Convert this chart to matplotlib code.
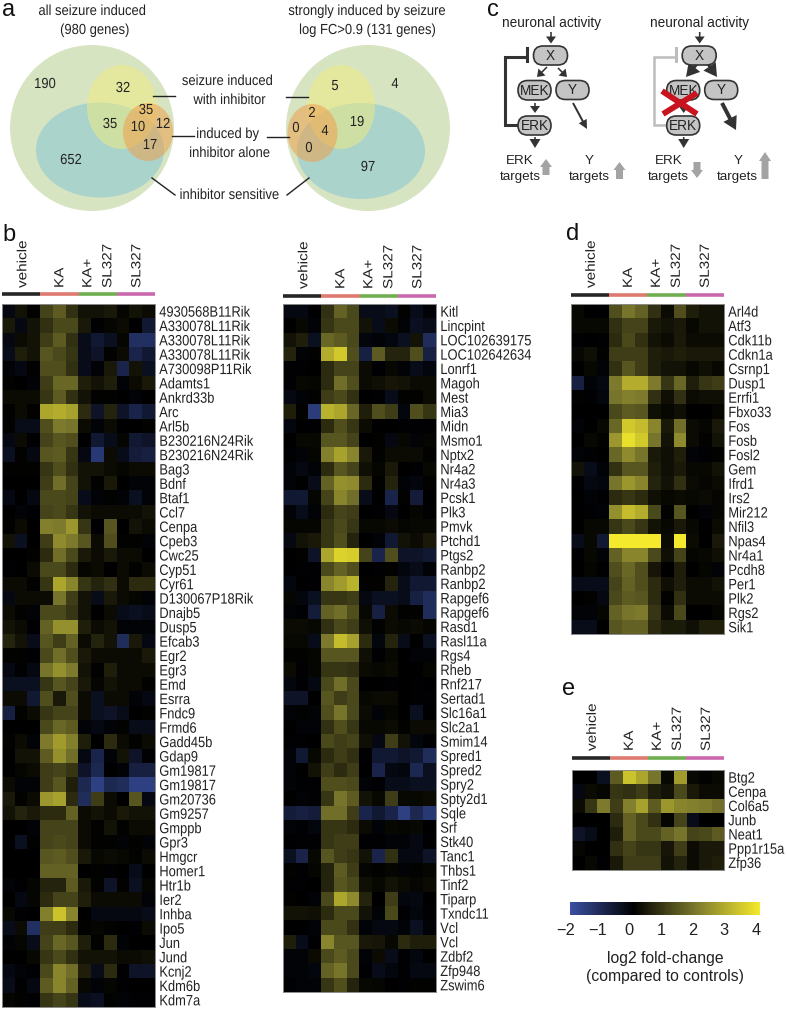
import matplotlib
matplotlib.use("Agg")
import matplotlib.pyplot as plt
import matplotlib.patheffects as pe
import numpy as np
from matplotlib.colors import LinearSegmentedColormap, Normalize
from matplotlib.cm import ScalarMappable
from matplotlib.patches import Ellipse, FancyBboxPatch, FancyArrow
from matplotlib.transforms import Affine2D, ScaledTranslation

plt.rcParams['font.family'] = ['Liberation Sans', 'DejaVu Sans']

left_genes = ["4930568B11Rik","A330078L11Rik","A330078L11Rik","A330078L11Rik","A730098P11Rik","Adamts1","Ankrd33b","Arc","Arl5b","B230216N24Rik","B230216N24Rik","Bag3","Bdnf","Btaf1","Ccl7","Cenpa","Cpeb3","Cwc25","Cyp51","Cyr61","D130067P18Rik","Dnajb5","Dusp5","Efcab3","Egr2","Egr3","Emd","Esrra","Fndc9","Frmd6","Gadd45b","Gdap9","Gm19817","Gm19817","Gm20736","Gm9257","Gmppb","Gpr3","Hmgcr","Homer1","Htr1b","Ier2","Inhba","Ipo5","Jun","Jund","Kcnj2","Kdm6b","Kdm7a"]
left_values = [
[-.2,.3,.05,1.1,1.5,.8,.3,.3,.4,.1,.3,.2],
[.4,-.2,.3,.8,1.2,1.2,.4,-.05,.1,.2,0,-.6],
[-.2,.2,.3,1.0,1.5,.8,-.3,-.6,-.4,.1,-1.2,-1.2],
[-.3,.5,.3,1.4,1.2,.9,-.3,-.5,.05,.2,-.9,-.6],
[-.1,-.2,.05,1.3,1.3,.8,-.3,-.1,.4,-.9,.3,-.4],
[.05,0,-.1,1.0,1.7,1.7,.5,.3,.5,-.1,.2,.4],
[.2,.2,.2,.9,1.5,.8,.3,.05,.05,0,-.1,0],
[.05,.2,.05,2.8,2.9,2.7,.7,-.5,.6,-.5,-.9,-.6],
[.05,-.3,-.3,1.3,2.0,1.9,.2,-.1,.2,0,0,.05],
[-.2,.2,-.05,1.1,1.4,1.3,0,-.6,-.3,.1,-.6,-.5],
[-.4,.05,-.2,1.4,1.5,.9,-.2,-1.4,.2,-.3,-.7,-.8],
[.05,.05,.05,.9,1.3,.8,.3,.3,.2,.1,.2,.2],
[0,0,0,1.0,1.8,1.1,.3,.05,.4,0,-.1,-.1],
[-.2,0,-.2,1.2,1.2,1.1,-.3,-.1,.05,-.1,-.4,-.1],
[0,-.1,-.05,1.1,1.2,.9,.3,.2,.2,.2,.2,.3],
[.05,.2,0,2.1,2.0,2.5,.9,-.05,1.4,0,.3,.2],
[.3,-.4,0,1.0,2.3,2.0,1.4,.2,1.3,.05,.05,-.1],
[0,0,.05,.7,1.8,1.2,.4,.2,.4,.2,.2,0],
[-.05,0,.2,1.2,1.2,.7,.1,.2,0,.2,.05,.2],
[.2,.2,.05,.9,2.8,2.2,.9,.6,.8,.2,.7,.7],
[-.2,.2,.2,.2,1.9,1.0,.3,-.3,.4,.2,.1,-.1],
[.2,.05,-.1,1.2,1.2,.9,.3,0,.2,-.3,-.4,-.3],
[.3,.2,-.05,1.6,2.4,2.4,.5,.2,.3,-.1,-.1,-.1],
[.6,.3,-.3,1.4,1.0,1.6,.2,.6,.3,-1.1,.4,-.2],
[.05,.05,-.05,1.2,1.8,1.3,.4,.2,.2,.2,.2,.4],
[-.2,-.05,-.2,1.9,2.4,2.0,.3,.05,.5,.2,.2,.2],
[-.4,-.4,-.4,.9,1.4,1.1,.4,.1,.3,.2,.2,.05],
[.2,.2,-.6,1.3,.4,1.3,.2,-.4,.2,.2,-.1,-.2],
[-.8,.05,.2,.9,1.1,1.1,.2,-.4,-.5,-.3,0,.05],
[0,0,0,1.2,1.7,1.5,-.1,-.2,-.1,.05,-.3,-.3],
[.05,.2,-.1,2.0,2.6,2.1,.5,0,.7,.2,.05,.2],
[0,.3,.3,1.5,2.4,1.8,-.2,-.9,-.1,.3,-.5,-.05],
[0,.1,.2,1.0,1.1,.9,-.5,-1.0,0,-.1,-.8,-.8],
[.2,-.1,-.1,1.0,1.4,.5,-1.0,-1.6,-1.0,-1.1,-1.6,-1.6],
[.4,.05,.2,2.5,2.7,.7,-1.1,1.0,.2,0,1.4,-.2],
[.3,.6,.4,.7,.7,1.6,.2,.3,.2,.4,.3,.3],
[0,0,-.1,1.1,1.1,1.1,.2,.05,.3,.05,.2,.2],
[0,-.4,.05,1.1,1.2,1.1,.2,.05,.05,-.1,.05,-.1],
[0,0,0,1.4,1.5,1.3,.4,.15,.2,.15,.05,.2],
[0,0,0,1.6,1.6,1.6,0,.05,-.05,0,-.3,0],
[-.1,-.05,.1,.6,.6,1.5,.4,.05,-.5,.05,-.4,.1],
[0,-.2,.1,.7,1.1,1.1,.5,.2,.2,.2,.2,-.1],
[.15,-.05,0,2.1,3.3,2.2,0,-.2,-.2,-.2,-.2,-.3],
[-.3,.2,-1.2,1,1,.7,.05,.1,.05,0,-.05,.2],
[-.1,.1,-.3,1.1,1.7,1.4,.5,.05,.7,-.1,0,0],
[0,0,.15,.9,1.2,.8,.3,.3,.3,.2,.2,.25],
[-.2,-.1,-.05,1.2,2.2,1.8,.5,-.3,.7,-.05,-.5,-.5],
[-.3,-.05,-.2,1.5,2.2,1.6,.15,-.1,.1,-.05,0,0],
[.1,.05,-.05,.9,1.1,.9,-.3,-.4,.05,-.1,-.05,-.05],
]

middle_genes = ["Kitl","Lincpint","LOC102639175","LOC102642634","Lonrf1","Magoh","Mest","Mia3","Midn","Msmo1","Nptx2","Nr4a2","Nr4a3","Pcsk1","Plk3","Pmvk","Ptchd1","Ptgs2","Ranbp2","Ranbp2","Rapgef6","Rapgef6","Rasd1","Rasl11a","Rgs4","Rheb","Rnf217","Sertad1","Slc16a1","Slc2a1","Smim14","Spred1","Spred2","Spry2","Spty2d1","Sqle","Srf","Stk40","Tanc1","Thbs1","Tinf2","Tiparp","Txndc11","Vcl","Vcl","Zdbf2","Zfp948","Zswim6"]
middle_values = [
[-.2,-.2,-.05,.8,1.6,1.2,-.3,-.3,-.4,.05,-.3,-.1],
[0,.15,-.1,.9,1.2,1.2,.3,-.3,.2,-.1,-.4,-.3],
[.3,.5,-.4,1.7,1.5,1.2,-.15,-.1,-.15,-.4,.3,-1.1],
[.6,-.1,.05,2.9,3.4,1.3,-.8,1.5,.6,.6,1.3,-.8],
[-.05,-.05,0,.7,1.1,1.1,.2,-.05,.15,-.1,-.3,-.15],
[-.05,.15,.1,.7,1.8,1.3,.2,.25,.35,.3,.2,.2],
[-.2,-.1,.05,1,1.2,.8,0,-.05,-.3,.05,.05,.2],
[.5,.05,-1.5,3.0,2.8,1.7,.5,1.3,1.0,-.15,1.3,.9],
[-.15,0,-.05,.7,1.3,.9,.2,0,0,-.05,-.05,-.05],
[0,.15,.15,1.4,1.4,1.1,0,.05,-.2,.15,-.1,.1],
[-.05,-.1,.1,2.1,2.7,2.2,.4,.05,.2,.2,.2,.05],
[-.1,-.2,-.1,.7,1.4,1.1,.25,.1,.4,0,-.05,.15],
[-.1,0,-.3,1.6,2.4,2.3,.7,.05,.6,-.1,-.15,.05],
[-.6,-.6,.1,1.1,2.2,1.8,-.3,0,-.9,.05,-.7,0],
[-.1,-.3,-.1,.7,1.1,1,0,-.05,-.2,0,.1,-.05],
[.1,.1,.1,.9,1.2,.9,.15,.15,.2,.1,.15,.15],
[-.2,.3,.4,.9,1.3,.6,0,-.1,-.6,.3,.2,.4],
[0,.05,-.5,2.8,3.6,3.5,1.1,-.9,1.3,-.5,-.5,-.6],
[0,-.05,-.05,1.2,1.6,1.3,0,-.05,.05,-.15,-.3,-.1],
[-.15,0,-.05,2.2,2.6,3.0,.05,.05,.6,-.3,-.6,-.6],
[.1,-.15,-.4,.9,.9,1,-.2,-.4,-.4,-.3,-.8,-1.1],
[-.1,-.05,-.7,1.6,1.8,1.3,.15,-.8,.2,.05,.05,-1.1],
[.2,.2,.15,.8,1.2,1,.25,.05,.2,.15,.2,.1],
[.15,.15,-.3,2,3.2,2.7,.7,-.15,.6,-.3,0,-.4],
[.05,.05,.1,1.4,1.4,1.4,.25,-.05,.15,0,-.1,-.1],
[.2,-.05,.1,.9,.9,.8,.2,.15,.2,0,0,.1],
[-.15,-.05,-.2,1.2,1.8,1.2,0,0,-.05,0,-.05,0],
[-.5,-.5,0,1.4,1,1.2,.15,.2,.2,0,-.05,-.05],
[-.1,.05,-.1,1.3,1.9,1.2,.2,-.1,.1,0,-.4,0],
[0,-.1,-.1,.8,1.3,.9,.15,.15,.2,.05,.2,.2],
[-.05,-.05,0,1.2,1,1.1,.25,-.2,1,.3,-.15,-.05],
[-.1,-.6,.15,.7,1,.8,-.05,-.6,-.6,-.5,-.6,-1.1],
[-.1,0,.3,1,.7,1,0,-.9,-.2,-.15,-1,-.4],
[-.1,-.05,-.05,1.3,1.3,1.2,-.1,-.05,-.3,-.3,-.4,-.4],
[0,-.1,-.05,.9,1.9,1.5,.3,.15,1,.15,.15,.2],
[-.7,-.8,-.7,1.8,1.8,1,-.9,-.6,-.9,-1.6,-1,-1.4],
[-.1,-.05,-.15,.9,.9,.7,.2,-.1,.15,.1,.15,0],
[0,-.05,-.05,.9,1,1,-.05,-.05,-.1,-.1,-.2,-.05],
[-.4,-.9,.15,1.4,1,.9,.3,-.9,.8,-.2,-.2,-.5],
[.05,-.05,.1,.6,1.5,1,.1,.05,.1,-.1,.05,.1],
[-.05,-.05,0,.6,1.4,1.2,.25,.15,.3,.2,.1,.2],
[.05,0,-.1,1.2,2.8,2.3,.6,0,1,-.15,-.2,0],
[.3,.3,.25,.7,1.2,1.2,.3,-.1,1.2,-.05,-.15,-.05],
[0,0,-.1,1.2,1.2,.8,-.1,-.2,-.2,-.1,-.4,-.1],
[.5,-.3,-.05,2.2,1.4,1.4,.4,.35,.15,.7,.5,.5],
[-.1,-.1,.2,1.2,1.5,1.2,-.1,.2,-.3,-.05,-.15,0],
[-.1,-.1,-.15,1.6,1.9,1.2,-.05,-.3,-.15,-.05,-.2,-.2],
[-.05,-.1,-.1,.9,1.3,.6,.15,.1,0,-.05,.05,.05],
]

d_genes = ["Arl4d","Atf3","Cdk11b","Cdkn1a","Csrnp1","Dusp1","Errfi1","Fbxo33","Fos","Fosb","Fosl2","Gem","Ifrd1","Irs2","Mir212","Nfil3","Npas4","Nr4a1","Pcdh8","Per1","Plk2","Rgs2","Sik1"]
d_values = [
[.15,0,-.05,1.3,1.9,1.6,.8,.2,1.3,.5,.3,.3],
[.15,.15,.15,.8,1.1,1.1,.4,.3,.4,.15,.3,.3],
[-.05,0,-.05,.7,1.2,.8,.3,.2,.4,.2,.2,.2],
[.15,.25,.05,1,1,1,.5,.4,.5,.4,.4,.4],
[0,.15,-.1,.8,1.4,1,.5,.3,.3,.15,.25,.15],
[-.8,-.1,-.2,2,2.9,2.9,2,.9,1.7,.5,.9,1],
[.05,-.05,-.15,1.9,2.1,2,.8,.25,.8,.2,.25,.25],
[0,0,0,1.2,1.5,1.4,.25,.15,.25,0,0,.1],
[-.1,0,.15,1.7,3.4,3.2,2.2,.4,1.8,.2,.1,.4],
[0,.15,.05,2.5,3.8,3.4,1.9,.3,2.3,.2,.05,.3],
[-.1,-.05,0,1.7,2.3,1.9,.4,.25,.5,-.1,-.05,.05],
[.3,-.3,-.1,.8,1.4,1.4,.5,.25,.4,.15,.15,.3],
[-.05,-.2,-.15,1.9,2.5,2.2,.6,.3,.8,.2,.1,.2],
[0,-.1,-.05,.7,.9,.7,.25,.15,.2,.15,.2,.1],
[0,-.05,-.1,2.4,3.2,2.9,1.2,.05,1.4,0,-.1,.1],
[0,.15,.15,.9,1.2,.9,.3,.15,.4,.15,0,.2],
[-.3,.15,-.6,4,4,4,4,.2,4,.2,0,.4],
[-.05,.15,-.1,1.6,2.2,2.2,1.2,.25,1.1,.1,.15,.25],
[0,.1,-.05,1.3,1.7,1.3,.35,0,.5,0,.1,-.1],
[-.3,-.3,-.3,1.1,1.6,1.3,.7,.25,.5,.2,.2,.3],
[0,.05,-.2,1.2,1.5,1.4,.7,.05,.8,.2,.2,.2],
[-.1,-.1,.1,1.6,1.9,2,.9,.2,1.2,0,0,.1],
[-.3,-.3,0,1.4,1.6,1.6,.7,.45,.45,.25,.5,.5],
]

e_genes = ["Btg2","Cenpa","Col6a5","Junb","Neat1","Ppp1r15a","Zfp36"]
e_values = [
[0,0,-.4,1.5,3.3,2.8,1.9,.15,2.6,.15,.05,.15],
[-.2,.2,.1,.9,.8,1,.5,.3,1.2,.4,.2,.2],
[.2,.9,2,1,2.1,2.7,1.5,2.5,2.2,2.1,2,1.8],
[0,0,0,.7,1.6,1.2,.8,.1,1.1,-.3,0,0],
[-.5,-.3,0,.5,1.6,1.2,1.2,1.6,1.9,1.1,1.2,1.5],
[.1,0,0,.8,1.1,.9,.9,.35,1,.2,.4,.4],
[0,.15,-.05,.4,1,1,1,.3,.6,.2,.4,.5],
]

group_names = ["vehicle", "KA", "KA+", "SL327", "SL327"]
group_colors = ["#262626", "#DE7A70", "#70AE50", "#C968AC"]
venn_left_counts = ["190", "32", "35", "35", "10", "12", "17", "652"]
venn_right_counts = ["5", "4", "2", "0", "4", "19", "0", "97"]
cbar_ticks = [-2, -1, 0, 1, 2, 3, 4]

W, H = 787, 1009
fig = plt.figure(figsize=(W / 100, H / 100), dpi=100)
ov = fig.add_axes([0, 0, 1, 1])
ov.set_xlim(0, W); ov.set_ylim(H, 0); ov.axis("off")

cmap = LinearSegmentedColormap.from_list(
    "bky", [(0, "#3A50A2"), (1 / 3, "#000000"), (2 / 3, "#7D7A2E"), (1, "#F4E92C")])
norm = Normalize(-2, 4)
TXT = "#222222"
FS = 10.5


class Narrow(pe.AbstractPathEffect):
    """Squeeze a text horizontally on screen (the reference's text is narrow)."""

    def __init__(self, sx, anchor="center"):
        super().__init__()
        self.sx, self.anchor = sx, anchor

    def draw_path(self, renderer, gc, tpath, affine, rgbFace=None):
        ext = tpath.transformed(affine).get_extents()
        ax_ = ext.x0 if self.anchor == "left" else (ext.x0 + ext.x1) / 2
        new = affine + Affine2D().translate(-ax_, 0).scale(self.sx, 1).translate(ax_, 0)
        renderer.draw_path(gc, tpath, new, rgbFace)


def t(x, y, s, size=FS, narrow=None, **kw):
    kw.setdefault("ha", "center"); kw.setdefault("va", "center"); kw.setdefault("color", TXT)
    o = ov.text(x, y, s, fontsize=size, **kw)
    if narrow:
        o.set_path_effects([Narrow(narrow)])
    return o


def box(x0, y0, x1, y1):
    return fig.add_axes([x0 / W, 1 - y1 / H, (x1 - x0) / W, (y1 - y0) / H])


def heat(values, genes, x0, x1, y0, y1, lab_y, bar_y):
    ax = box(x0, y0, x1, y1)
    ax.imshow(np.array(values), cmap=cmap, norm=norm, aspect="auto", interpolation="nearest")
    ax.set_xticks([])
    ax.set_yticks(range(len(genes)), genes, fontsize=10.8, color=TXT)
    ax.yaxis.tick_right()
    ax.tick_params(axis="y", length=0, pad=3)
    for lb in ax.get_yticklabels():
        lb.set_path_effects([Narrow(0.86, "left")])
    for s in ax.spines.values():
        s.set_color("#8a8a8a"); s.set_linewidth(0.7)
    w = (x1 - x0) / 4
    for i, c in enumerate(group_colors):
        ov.plot([x0 + i * w, x0 + (i + 1) * w], [bar_y, bar_y], color=c, lw=2.6, solid_capstyle="butt")
    for name, dx in zip(group_names, [21, 58, 86, 106, 135]):
        t(x0 + dx, lab_y, name, size=11, narrow=0.87, rotation=90, va="bottom")


heat(left_values, left_genes, 2, 155, 304, 1007, 288, 294)
heat(middle_values, middle_genes, 283, 436, 304, 992, 289, 295.5)
heat(d_values, d_genes, 570.5, 724, 304, 634, 288, 295)
heat(e_values, e_genes, 571.5, 724, 770, 869.5, 751, 757.5)

# colour bar
cax = box(570, 902, 760, 915)
cb = fig.colorbar(ScalarMappable(norm=norm, cmap=cmap), cax=cax, orientation="horizontal", ticks=cbar_ticks)
cb.outline.set_visible(False)
cax.tick_params(length=0, pad=6, labelsize=11.8, labelcolor=TXT)
cax.set_xticklabels(["\u2212" + str(-v) if v < 0 else str(v) for v in cbar_ticks])
for lb in cax.get_xticklabels():
    lb.set_transform(lb.get_transform() + ScaledTranslation(-4 / 100, 0, fig.dpi_scale_trans))
t(665, 958, "log2 fold-change", size=11.3)
t(665, 977, "(compared to controls)", size=11.3)

# panel letters
for x, y, s in [(2, 16.5, "a"), (2, 241, "b"), (487, 16.5, "c"), (566, 240, "d"), (562, 695, "e")]:
    t(x, y, s, size=17, color="#111111", ha="left", va="baseline")


# venn diagrams
def venn(big, yel, blu, ora):
    for (cx, cy, rx, ry), fc, al in [(big, "#D6E4C2", 1), (blu, "#86C5D6", .55), (yel, "#F2EC7E", .5), (ora, "#EE9F4C", .55)]:
        ov.add_patch(Ellipse((cx, cy), 2 * rx, 2 * ry, fc=fc, ec="none", alpha=al, zorder=1))


venn((92, 128, 82, 83), (122, 107, 35, 42), (100, 150, 64, 47.5), (148, 132, 25, 29))
venn((368, 128, 82, 83), (341, 107, 34, 42), (361, 151, 64, 48), (312.5, 133, 25, 29))
N = 0.89
for (x, y), s in zip([(45, 84), (123, 88), (146, 110), (110, 124), (138, 127), (163, 124), (150, 145), (71, 160)], venn_left_counts):
    t(x, y, s, narrow=N, zorder=3)
for (x, y), s in zip([(335, 86), (395, 84), (312, 113), (296, 128), (325, 131), (357, 122), (309, 148), (368, 167)], venn_right_counts):
    t(x, y, s, narrow=N, zorder=3)
t(93, 11, "all seizure induced", narrow=N); t(95, 30, "(980 genes)", narrow=N)
t(368, 11, "strongly induced by seizure", narrow=N); t(368, 30, "log FC>0.9 (131 genes)", narrow=N)
t(228, 81, "seizure induced", narrow=N); t(230, 100, "with inhibitor", narrow=N)
t(228, 134, "induced by", narrow=N); t(230, 153, "inhibitor alone", narrow=N); t(230, 195, "inhibitor sensitive", narrow=N)
for xs, ys in [((153, 175), (96, 96)), ((286, 308), (97, 97)), ((172, 194), (136, 136)), ((267, 289), (137, 137)),
               ((152, 175), (178, 195)), ((287, 309), (195, 178))]:
    ov.plot(xs, ys, color="#222222", lw=1.0, zorder=3)

# pathway panel
DK = "#333333"


def pill(x0, y0, x1, y1, s):
    r = (y1 - y0) / 2
    ov.add_patch(FancyBboxPatch((x0, y0), x1 - x0, y1 - y0, boxstyle=f"round,pad=0,rounding_size={r}",
                                fc="#C4C4C4", ec=DK, lw=1.2, zorder=3))
    t((x0 + x1) / 2, (y0 + y1) / 2 + .5, s, size=9.8, zorder=4)


def arr(x0, y0, x1, y1, w=1.6, hw=10, hl=7, c=DK, z=2.5):
    ov.add_patch(FancyArrow(x0, y0, x1 - x0, y1 - y0, width=w, head_width=hw, head_length=hl,
                            length_includes_head=True, fc=c, ec="none", zorder=z))


for dx, inh, thick in [(0, DK, False), (148.7, "#BDBDBD", True)]:
    t(551 + dx, 23, "neuronal activity", size=9.8)
    pill(533.5 + dx, 46, 567.5 + dx, 65, "X")
    pill(518 + dx, 80.5, 551 + dx, 100, "MEK")
    pill(556 + dx, 80.5, 589 + dx, 99.5, "Y")
    pill(518 + dx, 116, 551 + dx, 135, "ERK")
    arr(551 + dx, 32, 551 + dx, 43.5)
    arr(535 + dx, 103, 535 + dx, 113)
    arr(535 + dx, 137, 535 + dx, 148, hw=11, hl=9)
    ov.plot([518 + dx, 505 + dx, 505 + dx, 526 + dx], [125, 125, 56.5, 56.5], color=inh, lw=2.2 if not thick else 1.8,
            solid_joinstyle="miter", zorder=2)
    ov.plot([527 + dx, 527 + dx], [48, 61], color=inh, lw=2.2, zorder=2)
    t(520 + dx, 161, "ERK", size=9.6); t(520 + dx, 177, "targets", size=9.6)
    t(589 + dx, 161, "Y", size=9.6); t(589 + dx, 177, "targets", size=9.6)
    if thick:
        arr(697, 64, 686, 77, w=3, hw=15, hl=13)
        arr(708, 64, 717, 77, w=3, hw=15, hl=13)
        arr(722, 103, 736, 130, w=4, hw=15, hl=13)
    else:
        arr(547, 67, 537, 77)
        arr(558, 68, 567, 77)
        arr(573, 103, 587, 129, w=2, hw=9, hl=9)

GR = "#A3A3A3"
arr(546, 175, 546, 159, w=7, hw=12, hl=8, c=GR)
arr(619.5, 179, 619.5, 162, w=7, hw=12, hl=8, c=GR)
arr(697, 162, 697, 178, w=7, hw=12, hl=8, c=GR)
arr(765, 179, 765, 152, w=7, hw=12, hl=9, c=GR)
ov.plot([662, 697], [91, 114], color="#C8141E", lw=4.2, zorder=5, solid_capstyle="butt")
ov.plot([697, 663], [93, 114], color="#C8141E", lw=4.2, zorder=5, solid_capstyle="butt")

fig.savefig("out.png", dpi=100)
